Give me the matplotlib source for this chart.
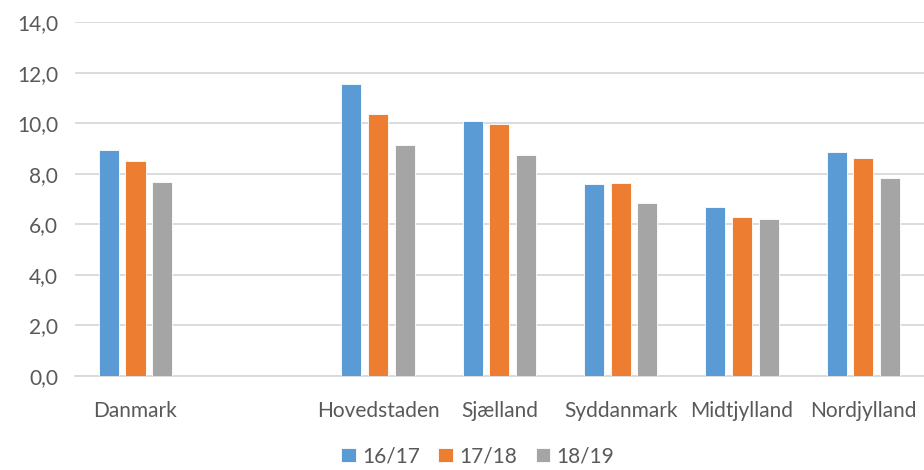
import numpy as np
from matplotlib import pyplot as plt

plt.rcParams['font.family'] = ['Lato', 'DejaVu Sans']

regions = ['Danmark', '', 'Hovedstaden', 'Sjælland', 'Syddanmark', 'Midtjylland', 'Nordjylland']
s1617 = [8.93, np.nan, 11.54, 10.08, 7.59, 6.68, 8.85]
s1718 = [8.50, np.nan, 10.36, 9.96, 7.63, 6.28, 8.62]
s1819 = [7.67, np.nan, 9.13, 8.73, 6.84, 6.20, 7.83]
series = {'16/17': s1617, '17/18': s1718, '18/19': s1819}
colors = ['#5b9bd5', '#ed7d31', '#a5a5a5']
grey = '#595959'

fig = plt.figure(figsize=(9.24, 4.70), dpi=100)
ax = fig.add_axes([0.081, 0.2, 0.919, 0.753])

x = np.arange(len(regions))
w = 0.165
step = 0.22
for i, (name, vals) in enumerate(series.items()):
    ax.bar(x + (i - 1) * step, vals, width=w, color=colors[i], label=name,
           edgecolor='white', linewidth=0.6, zorder=3)

ax.set_xlim(-0.5, len(regions) - 0.5)
ax.set_ylim(0, 14)
ax.set_yticks(np.arange(0, 15, 2))
ax.set_yticklabels([f'{v:.1f}'.replace('.', ',') for v in np.arange(0, 15, 2)])
ax.set_xticks(x)
ax.set_xticklabels(regions)
ax.grid(axis='y', color='#d9d9d9', linewidth=1.3, zorder=0)
for s in ['top', 'right', 'left']:
    ax.spines[s].set_visible(False)
ax.spines['bottom'].set_color('#d9d9d9')
ax.spines['bottom'].set_linewidth(1.3)
ax.tick_params(axis='both', length=0, labelsize=15, colors=grey)
ax.tick_params(axis='x', pad=18)
ax.tick_params(axis='y', pad=12)

fig.legend(loc='lower center', bbox_to_anchor=(0.517, -0.032), ncol=3, frameon=False,
           fontsize=15, handlelength=0.7, handleheight=0.7, handletextpad=0.3,
           columnspacing=0.9, labelcolor=grey)

plt.savefig('out.png')
